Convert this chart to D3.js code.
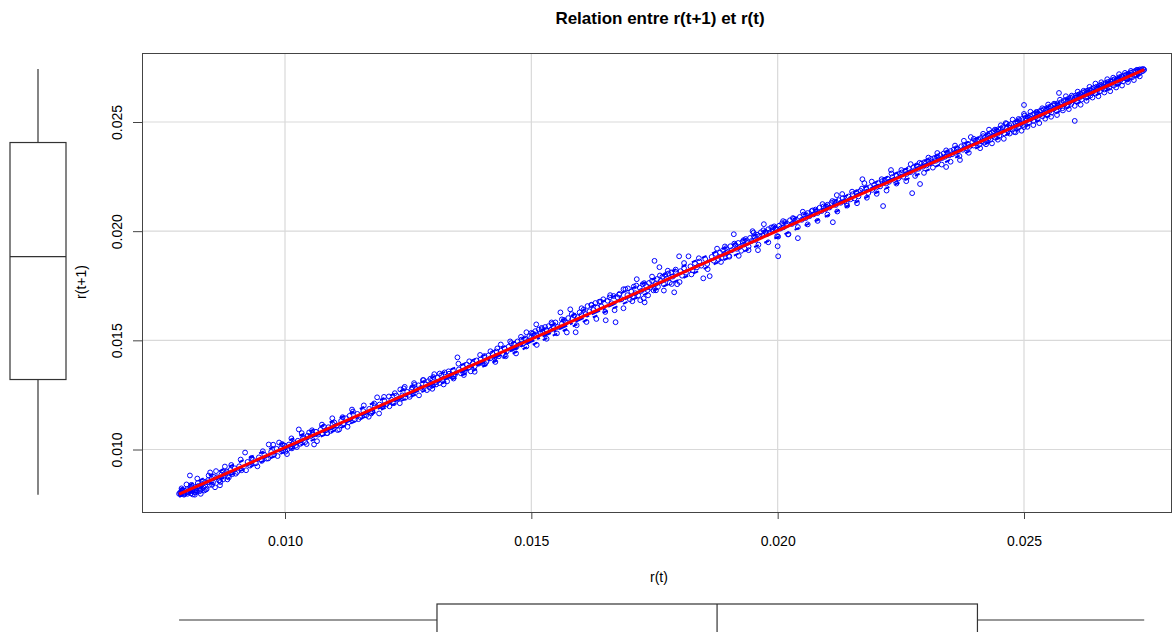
<!DOCTYPE html>
<html><head><meta charset="utf-8">
<script src="https://cdn.jsdelivr.net/npm/d3@7"></script>
<style>
body{margin:0;background:#fff;}
svg text{font-family:"Liberation Sans",Arial,sans-serif;fill:#000;}
</style>
</head><body>
<svg id="chart" width="1173" height="632"></svg>
<script>
const chartTitle = "Relation entre r(t+1) et r(t)";
const xLabel = "r(t)";
const yLabel = "r(t+1)";
const xTicks = [0.010, 0.015, 0.020, 0.025];
const yTicks = [0.010, 0.015, 0.020, 0.025];
// regression line: intercept, slope
const regCoef = [0.000166, 0.9925];
// smoother (blue dash-dot) and its spread lines
const smoothX  = [0.00785,0.0090,0.0100,0.0110,0.0120,0.0130,0.0140,0.0150,0.0160,0.0170,0.0180,0.0190,0.0200,0.0210,0.0220,0.0230,0.0240,0.0250,0.0260,0.02744];
const smoothY  = [0.00798,0.00906,0.01004,0.01102,0.01200,0.01299,0.01396,0.01495,0.01597,0.01700,0.01802,0.01903,0.02004,0.02106,0.02207,0.02304,0.02401,0.02497,0.02595,0.02739];
const spreadUp = [0.00815,0.00935,0.01034,0.01133,0.01234,0.01331,0.01428,0.01527,0.01632,0.01734,0.01832,0.01930,0.02026,0.02122,0.02226,0.02324,0.02421,0.02520,0.02616,0.02753];
const spreadLo = [0.00783,0.00893,0.00989,0.01086,0.01187,0.01285,0.01378,0.01477,0.01580,0.01681,0.01778,0.01877,0.01973,0.02070,0.02176,0.02275,0.02377,0.02476,0.02576,0.02724];

// observations [r(t), r(t+1)]
const obs = [
[0.00785,0.00797],[0.00787,0.00803],[0.00788,0.00795],[0.00789,0.00799],[0.00791,0.00815],[0.00792,0.00806],[0.00794,0.00800],[0.00796,0.00796],[0.00797,0.00811],[0.00799,0.00801],[0.00801,0.00818],[0.00802,0.00797],[0.00803,0.00805],[0.00806,0.00812],[0.00807,0.00881],[0.00808,0.00823],[0.00809,0.00799],[0.00811,0.00824],[0.00812,0.00809],[0.00813,0.00794],[0.00815,0.00816],[0.00817,0.00793],[0.00818,0.00803],[0.00819,0.00829],[0.00821,0.00811],[0.00823,0.00846],[0.00824,0.00833],[0.00826,0.00822],[0.00828,0.00815],[0.00829,0.00797],[0.00832,0.00842],[0.00835,0.00826],[0.00836,0.00812],[0.00838,0.00851],[0.00841,0.00819],[0.00843,0.00849],[0.00844,0.00860],[0.00847,0.00838],[0.00848,0.00895],[0.00851,0.00866],[0.00854,0.00850],[0.00856,0.00874],[0.00858,0.00827],[0.00862,0.00873],[0.00866,0.00858],[0.00868,0.00836],[0.00869,0.00851],[0.00871,0.00885],[0.00875,0.00864],[0.00878,0.00922],[0.00879,0.00892],[0.00882,0.00899],[0.00884,0.00877],[0.00886,0.00872],[0.00889,0.00906],[0.00893,0.00887],[0.00898,0.00914],[0.00903,0.00897],
[0.00907,0.00923],[0.00912,0.00905],[0.00919,0.00986],[0.00924,0.00943],[0.00929,0.00926],[0.00935,0.00953],[0.00941,0.00937],[0.00947,0.00964],[0.00953,0.00948],[0.00958,0.00976],[0.00963,0.00958],[0.00967,0.01023],[0.00972,0.00989],[0.00978,0.00977],[0.00983,0.01003],[0.00988,0.01032],[0.00992,0.01006],[0.00996,0.00995],[0.00999,0.01018],[0.01001,0.00990],[0.01002,0.01011],[0.01005,0.01001],[0.01008,0.01023],[0.01011,0.01014],[0.01014,0.01005],[0.01016,0.01026],[0.01018,0.01033],[0.01022,0.01018],[0.01026,0.01040],[0.01028,0.01092],[0.01031,0.01026],[0.01036,0.01051],[0.01039,0.01053],[0.01041,0.01034],[0.01046,0.01063],
[0.01049,0.01078],[0.01052,0.01061],[0.01056,0.01072],[0.01059,0.01023],[0.01063,0.01081],[0.01067,0.01068],[0.01072,0.01090],[0.01076,0.01073],[0.01079,0.01105],[0.01083,0.01088],[0.01085,0.01075],[0.01088,0.01102],[0.01093,0.01085],[0.01097,0.01115],[0.01100,0.01124],[0.01105,0.01110],[0.01110,0.01092],[0.01114,0.01131],[0.01119,0.01120],[0.01124,0.01143],[0.01129,0.01125],[0.01131,0.01154],[0.01136,0.01183],[0.01142,0.01138],[0.01147,0.01163],[0.01153,0.01148],[0.01159,0.01176],[0.01165,0.01157],[0.01171,0.01186],[0.01175,0.01165],[0.01177,0.01172],[0.01182,0.01198],[0.01187,0.01239],[0.01192,0.01206],[0.01197,0.01197],[0.01202,0.01222],[0.01206,0.01207],[0.01211,0.01243],[0.01216,0.01228],[0.01221,0.01212],[0.01226,0.01247],[0.01230,0.01232],[0.01234,0.01275],[0.01238,0.01248],[0.01241,0.01280],[0.01244,0.01237],[0.01248,0.01264],[0.01252,0.01250],[0.01257,0.01275],[0.01258,0.01284],[0.01262,0.01304],[0.01266,0.01277],[0.01271,0.01294],[0.01276,0.01282],[0.01281,0.01318],[0.01286,0.01298],[0.01291,0.01313],[0.01293,0.01285],[0.01296,0.01303],[0.01301,0.01332],[0.01306,0.01308],
[0.00790,0.00822],[0.00795,0.00793],[0.00800,0.00840],[0.00805,0.00806],[0.00810,0.00838],[0.00816,0.00806],[0.00822,0.00867],[0.00827,0.00809],[0.00833,0.00855],[0.00839,0.00816],[0.00845,0.00881],[0.00852,0.00838],[0.00860,0.00901],[0.00867,0.00859],[0.00874,0.00900],[0.00883,0.00863],[0.00891,0.00929],[0.00900,0.00889],[0.00910,0.00954],[0.00921,0.00905],[0.00932,0.00961],[0.00944,0.00923],[0.00955,0.00992],[0.00966,0.00959],[0.00976,0.01022],[0.00985,0.00970],[0.00994,0.01025],[0.01004,0.00979],[0.01013,0.01051],[0.01024,0.01011],[0.01034,0.01075],[0.01044,0.01025],[0.01055,0.01088],[0.01065,0.01038],[0.01075,0.01114],[0.01086,0.01075],[0.01096,0.01143],[0.01107,0.01089],[0.01117,0.01148],[0.01127,0.01104],[0.01138,0.01174],[0.01149,0.01139],[0.01160,0.01202],[0.01170,0.01150],[0.01181,0.01211],[0.01191,0.01165],[0.01201,0.01241],[0.01212,0.01198],[0.01223,0.01258],[0.01233,0.01212],[0.01243,0.01287],[0.01253,0.01241],[0.01263,0.01296],[0.01272,0.01248],[0.01280,0.01318],[0.01288,0.01272],[0.01295,0.01324],[0.01299,0.01278],[0.01303,0.01345],[0.01307,0.01298],
[0.01310,0.01329],[0.01313,0.01304],[0.01317,0.01340],[0.01321,0.01323],[0.01324,0.01353],[0.01329,0.01312],[0.01333,0.01347],[0.01337,0.01336],[0.01341,0.01362],[0.01345,0.01344],[0.01350,0.01422],[0.01353,0.01367],[0.01357,0.01349],[0.01361,0.01378],[0.01365,0.01360],[0.01369,0.01389],[0.01373,0.01375],[0.01377,0.01358],[0.01381,0.01394],[0.01385,0.01381],[0.01389,0.01408],[0.01393,0.01393],[0.01397,0.01412],[0.01401,0.01396],[0.01405,0.01428],[0.01409,0.01402],[0.01413,0.01431],[0.01417,0.01418],[0.01421,0.01440],[0.01425,0.01419],[0.01429,0.01449],[0.01431,0.01463],[0.01434,0.01427],[0.01438,0.01453],[0.01442,0.01438],[0.01446,0.01462],[0.01450,0.01449],[0.01454,0.01471],[0.01457,0.01495],[0.01461,0.01461],[0.01465,0.01483],[0.01469,0.01468],[0.01472,0.01495],[0.01476,0.01481],[0.01480,0.01503],[0.01484,0.01486],[0.01487,0.01509],[0.01490,0.01537],[0.01493,0.01497],[0.01496,0.01519],
[0.01500,0.01514],[0.01503,0.01531],[0.01506,0.01520],[0.01508,0.01542],[0.01510,0.01573],[0.01512,0.01523],[0.01515,0.01549],[0.01518,0.01533],[0.01521,0.01557],[0.01524,0.01536],[0.01528,0.01561],[0.01531,0.01546],[0.01535,0.01565],[0.01539,0.01548],[0.01542,0.01575],[0.01545,0.01557],[0.01549,0.01582],[0.01553,0.01561],[0.01559,0.01628],[0.01562,0.01576],[0.01566,0.01593],[0.01570,0.01581],[0.01575,0.01602],[0.01579,0.01642],[0.01583,0.01598],[0.01587,0.01613],[0.01590,0.01537],[0.01594,0.01606],[0.01598,0.01628],[0.01602,0.01616],[0.01606,0.01640],[0.01610,0.01620],[0.01614,0.01657],[0.01618,0.01633],[0.01622,0.01661],[0.01626,0.01639],[0.01630,0.01671],[0.01634,0.01650],[0.01638,0.01677],[0.01642,0.01656],[0.01646,0.01688],[0.01651,0.01592],[0.01655,0.01681],[0.01659,0.01696],[0.01663,0.01670],[0.01667,0.01703],[0.01671,0.01583],[0.01675,0.01697],[0.01679,0.01713],[0.01683,0.01688],[0.01687,0.01734],[0.01691,0.01734],[0.01695,0.01707],
[0.01700,0.01688],[0.01703,0.01723],[0.01706,0.01699],[0.01708,0.01746],[0.01711,0.01716],[0.01714,0.01780],[0.01717,0.01706],[0.01720,0.01741],[0.01723,0.01726],[0.01726,0.01757],[0.01728,0.01692],[0.01730,0.01674],[0.01733,0.01749],[0.01736,0.01730],[0.01739,0.01763],[0.01742,0.01741],[0.01745,0.01772],[0.01748,0.01729],[0.01750,0.01864],[0.01752,0.01758],[0.01755,0.01781],[0.01757,0.01745],[0.01760,0.01835],[0.01763,0.01772],[0.01766,0.01791],[0.01769,0.01757],[0.01772,0.01799],[0.01775,0.01783],[0.01778,0.01806],[0.01781,0.01764],[0.01784,0.01811],[0.01787,0.01792],[0.01790,0.01720],[0.01793,0.01813],[0.01796,0.01757],[0.01800,0.01885],[0.01803,0.01817],[0.01806,0.01796],[0.01810,0.01830],[0.01814,0.01810],[0.01819,0.01885],[0.01823,0.01839],[0.01827,0.01821],[0.01832,0.01853],[0.01836,0.01834],[0.01841,0.01861],[0.01845,0.01842],[0.01849,0.01784],[0.01853,0.01872],[0.01857,0.01850],[0.01862,0.01794],[0.01866,0.01882],[0.01870,0.01865],[0.01874,0.01896],[0.01877,0.01920],[0.01880,0.01871],
[0.01314,0.01348],[0.01322,0.01298],[0.01332,0.01358],[0.01342,0.01325],[0.01352,0.01393],[0.01363,0.01341],[0.01374,0.01404],[0.01385,0.01356],[0.01396,0.01433],[0.01406,0.01392],[0.01417,0.01450],[0.01427,0.01401],[0.01438,0.01481],[0.01448,0.01427],[0.01459,0.01487],[0.01469,0.01440],[0.01479,0.01516],[0.01490,0.01472],[0.01500,0.01534],[0.01511,0.01479],[0.01521,0.01551],[0.01531,0.01507],[0.01541,0.01582],[0.01552,0.01532],[0.01562,0.01596],[0.01572,0.01536],[0.01582,0.01620],[0.01592,0.01569],[0.01602,0.01647],[0.01612,0.01584],[0.01622,0.01663],[0.01632,0.01598],[0.01641,0.01677],[0.01650,0.01630],[0.01660,0.01707],[0.01669,0.01638],[0.01678,0.01709],[0.01687,0.01647],[0.01696,0.01738],[0.01705,0.01679],[0.01713,0.01751],[0.01721,0.01684],[0.01729,0.01762],[0.01737,0.01706],[0.01745,0.01792],[0.01753,0.01729],[0.01761,0.01797],[0.01769,0.01728],[0.01777,0.01819],[0.01785,0.01758],[0.01793,0.01824],[0.01801,0.01767],[0.01810,0.01854],[0.01825,0.01802],[0.01840,0.01876],[0.01858,0.01826],
[0.01883,0.01902],[0.01886,0.01877],[0.01889,0.01913],[0.01892,0.01896],[0.01895,0.01922],[0.01898,0.01904],[0.01901,0.01887],[0.01904,0.01931],[0.01907,0.01913],[0.01911,0.01986],[0.01914,0.01937],[0.01917,0.01919],[0.01920,0.01946],[0.01923,0.01928],[0.01926,0.01910],[0.01929,0.01953],[0.01932,0.01939],[0.01935,0.01964],[0.01938,0.01946],[0.01941,0.01930],[0.01944,0.01969],[0.01947,0.01955],[0.01949,0.02000],[0.01952,0.01976],[0.01955,0.01960],[0.01958,0.01984],[0.01960,0.01913],[0.01963,0.01978],[0.01966,0.01995],[0.01969,0.01980],[0.01972,0.02032],[0.01975,0.01997],[0.01978,0.01986],[0.01981,0.02009],[0.01984,0.01994],[0.01987,0.02017],[0.01990,0.02002],[0.01993,0.02022],[0.01996,0.02007],[0.01999,0.01977],[0.02000,0.01931],[0.02001,0.01885],[0.02003,0.02025],[0.02006,0.02012],[0.02009,0.02036],[0.02012,0.02018],[0.02015,0.02042],[0.02018,0.02026],[0.02022,0.01986],[0.02025,0.02050],[0.02029,0.02033],[0.02033,0.02057],[0.02037,0.02042],[0.02041,0.01968],[0.02045,0.02065],[0.02049,0.02052],
[0.02053,0.02076],[0.02057,0.02060],[0.02061,0.02083],[0.02065,0.02069],[0.02069,0.02092],[0.02073,0.02077],[0.02077,0.02099],[0.02081,0.02083],[0.02085,0.02107],[0.02089,0.02092],[0.02093,0.02113],[0.02097,0.02101],[0.02101,0.02121],[0.02105,0.02108],[0.02109,0.02129],[0.02112,0.02041],[0.02115,0.02135],[0.02118,0.02120],[0.02120,0.02165],[0.02124,0.02142],[0.02128,0.02130],[0.02132,0.02151],[0.02136,0.02138],[0.02140,0.02128],[0.02144,0.02159],[0.02148,0.02146],[0.02152,0.02169],[0.02156,0.02150],[0.02160,0.02178],[0.02164,0.02159],[0.02168,0.02185],[0.02172,0.02238],[0.02176,0.02220],[0.02180,0.02193],[0.02184,0.02175],[0.02188,0.02202],[0.02192,0.02189],[0.02196,0.02212],[0.02200,0.02199],[0.02204,0.02220],[0.02208,0.02205],[0.02212,0.02229],[0.02214,0.02115],[0.02217,0.02234],[0.02220,0.02218],[0.02223,0.02240],[0.02226,0.02226],[0.02230,0.02280],[0.02233,0.02248],[0.02237,0.02234],[0.02241,0.02255],[0.02245,0.02242],[0.02248,0.02263],
[0.02252,0.02269],[0.02255,0.02249],[0.02259,0.02276],[0.02262,0.02262],[0.02266,0.02285],[0.02269,0.02270],[0.02273,0.02174],[0.02276,0.02293],[0.02279,0.02280],[0.02282,0.02301],[0.02286,0.02286],[0.02289,0.02216],[0.02292,0.02310],[0.02295,0.02295],[0.02298,0.02316],[0.02302,0.02301],[0.02305,0.02323],[0.02308,0.02310],[0.02311,0.02331],[0.02314,0.02317],[0.02318,0.02335],[0.02321,0.02322],[0.02324,0.02342],[0.02327,0.02328],[0.02330,0.02348],[0.02334,0.02335],[0.02337,0.02356],[0.02340,0.02341],[0.02342,0.02294],[0.02345,0.02361],[0.02348,0.02347],[0.02351,0.02367],[0.02354,0.02352],[0.02357,0.02373],[0.02360,0.02359],[0.02363,0.02380],[0.02366,0.02366],[0.02370,0.02326],[0.02373,0.02389],[0.02376,0.02373],[0.02379,0.02394],[0.02382,0.02380],[0.02386,0.02400],[0.02389,0.02386],[0.02392,0.02431],[0.02395,0.02407],[0.02398,0.02392],[0.02401,0.02415],[0.02404,0.02402],[0.02407,0.02421],
[0.01885,0.01859],[0.01893,0.01930],[0.01902,0.01883],[0.01912,0.01943],[0.01921,0.01887],[0.01931,0.01959],[0.01941,0.01913],[0.01951,0.01993],[0.01961,0.01938],[0.01971,0.02004],[0.01981,0.01949],[0.01991,0.02017],[0.02001,0.01975],[0.02011,0.02046],[0.02021,0.01985],[0.02031,0.02060],[0.02041,0.02019],[0.02051,0.02089],[0.02061,0.02031],[0.02071,0.02095],[0.02081,0.02047],[0.02091,0.02124],[0.02101,0.02076],[0.02111,0.02138],[0.02121,0.02090],[0.02131,0.02170],[0.02141,0.02117],[0.02151,0.02181],[0.02161,0.02128],[0.02171,0.02195],[0.02181,0.02153],[0.02191,0.02227],[0.02201,0.02171],[0.02211,0.02238],[0.02221,0.02186],[0.02231,0.02264],[0.02241,0.02218],[0.02251,0.02280],[0.02261,0.02229],[0.02270,0.02307],[0.02279,0.02253],[0.02288,0.02313],[0.02297,0.02267],[0.02306,0.02337],[0.02315,0.02291],[0.02324,0.02358],[0.02333,0.02305],[0.02342,0.02370],[0.02351,0.02318],[0.02360,0.02392],[0.02369,0.02344],[0.02378,0.02414],[0.02388,0.02359],[0.02398,0.02423],
[0.02410,0.02398],[0.02412,0.02426],[0.02414,0.02411],[0.02417,0.02435],[0.02419,0.02405],[0.02421,0.02430],[0.02423,0.02418],[0.02426,0.02441],[0.02428,0.02424],[0.02430,0.02447],[0.02432,0.02419],[0.02435,0.02452],[0.02437,0.02436],[0.02439,0.02458],[0.02441,0.02429],[0.02444,0.02462],[0.02446,0.02445],[0.02448,0.02467],[0.02450,0.02437],[0.02453,0.02470],[0.02455,0.02458],[0.02457,0.02476],[0.02460,0.02448],[0.02463,0.02495],[0.02465,0.02471],[0.02467,0.02459],[0.02470,0.02486],[0.02472,0.02474],[0.02474,0.02491],[0.02477,0.02466],[0.02480,0.02454],[0.02482,0.02497],[0.02484,0.02482],[0.02486,0.02503],[0.02489,0.02477],[0.02491,0.02509],[0.02493,0.02491],[0.02496,0.02514],[0.02498,0.02486],[0.02500,0.02537],[0.02500,0.02578],[0.02500,0.02477],[0.02503,0.02518],[0.02505,0.02506],[0.02507,0.02524],[0.02510,0.02498],[0.02512,0.02529],[0.02514,0.02514],[0.02517,0.02533],[0.02519,0.02505],[0.02521,0.02538],[0.02524,0.02522],[0.02526,0.02544],[0.02528,0.02515],[0.02531,0.02549],[0.02533,0.02534],[0.02535,0.02553],[0.02538,0.02526],[0.02540,0.02558],[0.02542,0.02541],[0.02545,0.02562],[0.02547,0.02533],[0.02549,0.02567],[0.02552,0.02550],[0.02554,0.02571],[0.02556,0.02543],[0.02559,0.02576],[0.02561,0.02561],[0.02563,0.02580],[0.02566,0.02552],[0.02568,0.02585],[0.02571,0.02633],[0.02573,0.02571],[0.02575,0.02590],[0.02578,0.02563],[0.02580,0.02596],[0.02582,0.02580],[0.02585,0.02601],[0.02587,0.02573],[0.02589,0.02605],[0.02592,0.02590],[0.02594,0.02611],[0.02596,0.02583],[0.02599,0.02614],[0.02601,0.02599],[0.02603,0.02505],
[0.02605,0.02621],[0.02606,0.02612],[0.02607,0.02594],[0.02610,0.02625],[0.02612,0.02610],[0.02614,0.02629],[0.02616,0.02622],[0.02617,0.02603],[0.02619,0.02634],[0.02621,0.02620],[0.02624,0.02639],[0.02626,0.02612],[0.02627,0.02633],[0.02628,0.02643],[0.02631,0.02629],[0.02633,0.02647],[0.02635,0.02621],[0.02637,0.02645],[0.02638,0.02652],[0.02640,0.02638],[0.02642,0.02656],[0.02645,0.02631],[0.02647,0.02661],[0.02648,0.02652],[0.02649,0.02647],[0.02652,0.02665],[0.02654,0.02640],[0.02656,0.02670],[0.02658,0.02664],[0.02659,0.02656],[0.02661,0.02674],[0.02663,0.02649],[0.02666,0.02679],[0.02668,0.02665],[0.02669,0.02672],[0.02670,0.02683],[0.02673,0.02657],[0.02675,0.02687],[0.02677,0.02674],[0.02679,0.02684],[0.02680,0.02692],[0.02682,0.02667],[0.02684,0.02696],[0.02687,0.02683],[0.02689,0.02700],[0.02690,0.02693],[0.02691,0.02676],[0.02694,0.02705],[0.02696,0.02692],[0.02698,0.02709],[0.02700,0.02704],[0.02701,0.02686],[0.02703,0.02713],[0.02705,0.02700],[0.02708,0.02718],[0.02710,0.02695],[0.02712,0.02721],[0.02715,0.02708],[0.02717,0.02726],[0.02719,0.02704],[0.02722,0.02730],[0.02724,0.02716],[0.02726,0.02734],[0.02729,0.02713],[0.02731,0.02738],[0.02733,0.02724],[0.02735,0.02741],[0.02737,0.02729],[0.02739,0.02741],[0.02741,0.02733],[0.02742,0.02743],[0.02744,0.02739],
[0.02411,0.02380],[0.02417,0.02446],[0.02423,0.02398],[0.02429,0.02465],[0.02435,0.02402],[0.02441,0.02465],[0.02447,0.02419],[0.02453,0.02485],[0.02459,0.02423],[0.02465,0.02492],[0.02471,0.02447],[0.02477,0.02511],[0.02483,0.02453],[0.02489,0.02514],[0.02495,0.02460],[0.02501,0.02529],[0.02507,0.02478],[0.02513,0.02547],[0.02519,0.02486],[0.02525,0.02546],[0.02531,0.02495],[0.02537,0.02563],[0.02543,0.02515],[0.02549,0.02580],[0.02555,0.02524],[0.02561,0.02584],[0.02567,0.02532],[0.02573,0.02602],[0.02579,0.02553],[0.02585,0.02618],[0.02591,0.02559],[0.02597,0.02621],[0.02603,0.02574],[0.02609,0.02639],[0.02615,0.02579],[0.02621,0.02643],[0.02627,0.02597],[0.02633,0.02661],[0.02639,0.02612],[0.02645,0.02676],[0.02651,0.02618],[0.02657,0.02682],[0.02663,0.02635],[0.02669,0.02696],[0.02675,0.02641],[0.02681,0.02703],[0.02687,0.02658],[0.02693,0.02719],[0.02699,0.02667],[0.02705,0.02725],[0.02711,0.02683],[0.02717,0.02734],[0.02723,0.02692],[0.02729,0.02739],[0.02735,0.02709]
];

const svg = d3.select("#chart");
const plot = {left: 142, right: 1172, top: 53, bottom: 512};
const x = d3.scaleLinear().domain([0.010, 0.025]).range([285, 1024]);
const y = d3.scaleLinear().domain([0.010, 0.025]).range([449.5, 122]);
const axisColor = "#444";

// clip
svg.append("defs").append("clipPath").attr("id", "clip")
  .append("rect").attr("x", plot.left).attr("y", plot.top)
  .attr("width", plot.right - plot.left).attr("height", plot.bottom - plot.top);

// grid
const grid = svg.append("g");
grid.selectAll("line.gx").data(xTicks).join("line").attr("class","gx")
  .attr("x1", d => x(d)).attr("x2", d => x(d))
  .attr("y1", plot.top).attr("y2", plot.bottom)
  .attr("stroke", "#d9d9d9").attr("stroke-width", 1.2);
grid.selectAll("line.gy").data(yTicks).join("line").attr("class","gy")
  .attr("y1", d => y(d)).attr("y2", d => y(d))
  .attr("x1", plot.left).attr("x2", plot.right)
  .attr("stroke", "#d9d9d9").attr("stroke-width", 1.2);

const g = svg.append("g").attr("clip-path", "url(#clip)");

// points
g.append("g").selectAll("circle").data(obs).join("circle")
  .attr("cx", d => x(d[0])).attr("cy", d => y(d[1])).attr("r", 2.4)
  .attr("fill", "none").attr("stroke", "#0000ff").attr("stroke-width", 1);

// smoother lines
const sm = (ys) => d3.line().x((d, i) => x(smoothX[i])).y(d => y(d)).curve(d3.curveMonotoneX)(ys);
[spreadUp, spreadLo].forEach(arr => {
  g.append("path").attr("d", sm(arr)).attr("fill", "none")
    .attr("stroke", "#0000ff").attr("stroke-width", 2).attr("stroke-dasharray", "5,6");
});
g.append("path").attr("d", sm(smoothY)).attr("fill", "none")
  .attr("stroke", "#0000ff").attr("stroke-width", 2.6).attr("stroke-dasharray", "9,3,3,3");

// regression line
const xExt = d3.extent(obs, d => d[0]);
g.append("line")
  .attr("x1", x(xExt[0])).attr("y1", y(regCoef[0] + regCoef[1] * xExt[0]))
  .attr("x2", x(xExt[1])).attr("y2", y(regCoef[0] + regCoef[1] * xExt[1]))
  .attr("stroke", "#ff0000").attr("stroke-width", 3);

// box
svg.append("rect").attr("x", plot.left + 0.5).attr("y", plot.top + 0.5)
  .attr("width", plot.right - plot.left - 1).attr("height", plot.bottom - plot.top)
  .attr("fill", "none").attr("stroke", axisColor).attr("stroke-width", 1);

// axes
const fmt = d3.format(".3f");
const xAxis = svg.append("g").attr("transform", `translate(0,${plot.bottom})`)
  .call(d3.axisBottom(x).tickValues(xTicks).tickFormat(fmt).tickSize(7).tickPadding(17));
xAxis.select(".domain").remove();
xAxis.selectAll(".tick line").attr("stroke", axisColor);
xAxis.selectAll(".tick text").attr("font-size", 14).attr("font-family", "Liberation Sans, Arial, sans-serif").attr("fill", "#000");

const yAxis = svg.append("g").attr("transform", `translate(${plot.left},0)`)
  .call(d3.axisLeft(y).tickValues(yTicks).tickFormat(fmt).tickSize(9));
yAxis.select(".domain").remove();
yAxis.selectAll(".tick line").attr("stroke", axisColor);
yAxis.selectAll(".tick text")
  .attr("font-size", 14).attr("font-family", "Liberation Sans, Arial, sans-serif").attr("fill", "#000")
  .attr("x", null).attr("dy", null).attr("text-anchor", "middle")
  .attr("transform", "translate(-20,0) rotate(-90)");

// labels
svg.append("text").attr("x", 660).attr("y", 24).attr("text-anchor", "middle")
  .attr("font-size", 17).attr("font-weight", "bold").text(chartTitle);
svg.append("text").attr("x", 659).attr("y", 582).attr("text-anchor", "middle")
  .attr("font-size", 14).text(xLabel);
svg.append("text").attr("transform", "translate(86,282) rotate(-90)").attr("text-anchor", "middle")
  .attr("font-size", 14).text(yLabel);

// marginal boxplots (from data)
function stats(vals) {
  const s = vals.slice().sort(d3.ascending);
  return {min: s[0], q1: d3.quantile(s, 0.25), med: d3.quantile(s, 0.5), q3: d3.quantile(s, 0.75), max: s[s.length - 1]};
}
const sy = stats(obs.map(d => d[1]));
const sx = stats(obs.map(d => d[0]));
const bc = "#333";
// left (r(t+1))
const lb = svg.append("g").attr("stroke", bc).attr("stroke-width", 1.2).attr("fill", "none");
const cx0 = 38, hw = 28;
lb.append("line").attr("x1", cx0).attr("x2", cx0).attr("y1", y(sy.max)).attr("y2", y(sy.q3));
lb.append("line").attr("x1", cx0).attr("x2", cx0).attr("y1", y(sy.q1)).attr("y2", y(sy.min));
lb.append("rect").attr("x", cx0 - hw).attr("width", 2 * hw).attr("y", y(sy.q3)).attr("height", y(sy.q1) - y(sy.q3));
lb.append("line").attr("x1", cx0 - hw).attr("x2", cx0 + hw).attr("y1", y(sy.med)).attr("y2", y(sy.med));
// bottom (r(t))
const bb = svg.append("g").attr("stroke", bc).attr("stroke-width", 1.2).attr("fill", "none");
const cy0 = 620, hh = 16;
bb.append("line").attr("y1", cy0).attr("y2", cy0).attr("x1", x(sx.min)).attr("x2", x(sx.q1));
bb.append("line").attr("y1", cy0).attr("y2", cy0).attr("x1", x(sx.q3)).attr("x2", x(sx.max));
bb.append("rect").attr("y", cy0 - hh).attr("height", 2 * hh).attr("x", x(sx.q1)).attr("width", x(sx.q3) - x(sx.q1));
bb.append("line").attr("y1", cy0 - hh).attr("y2", cy0 + hh).attr("x1", x(sx.med)).attr("x2", x(sx.med));
</script>
</body></html>
